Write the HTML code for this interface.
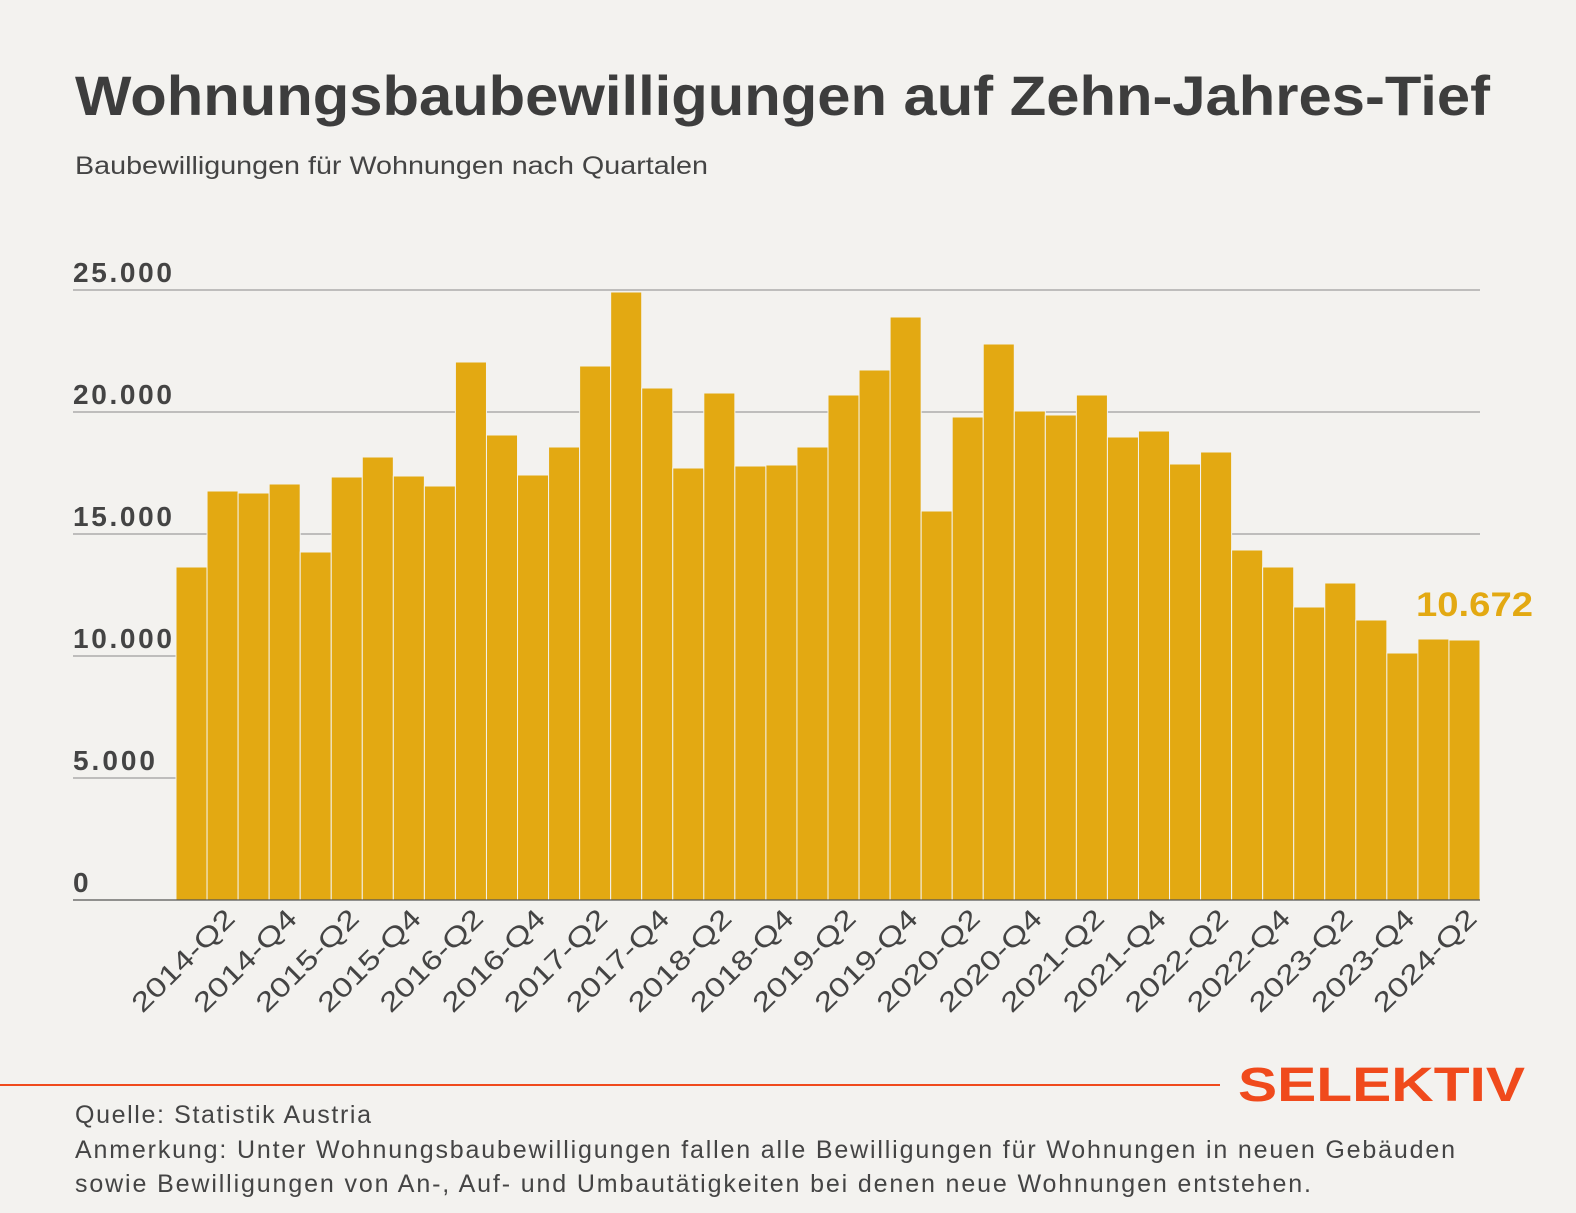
<!DOCTYPE html>
<html><head><meta charset="utf-8"><style>
html,body{margin:0;padding:0;background:#f3f2ef;}
svg{display:block;}
</style></head><body>
<svg width="1576" height="1213" viewBox="0 0 1576 1213" xmlns="http://www.w3.org/2000/svg" font-family="Liberation Sans, sans-serif">
<rect width="1576" height="1213" fill="#f3f2ef"/>
<text x="75" y="115" font-size="56" font-weight="bold" fill="#3d3d3d" textLength="1415" lengthAdjust="spacingAndGlyphs">Wohnungsbaubewilligungen auf Zehn-Jahres-Tief</text>
<text x="75" y="174" font-size="25" fill="#444" textLength="633" lengthAdjust="spacingAndGlyphs">Baubewilligungen für Wohnungen nach Quartalen</text>
<g stroke="#888" stroke-width="1">
<line x1="73" y1="290" x2="1480" y2="290"/>
<line x1="73" y1="412" x2="1480" y2="412"/>
<line x1="73" y1="534" x2="1480" y2="534"/>
<line x1="73" y1="656" x2="1480" y2="656"/>
<line x1="73" y1="778" x2="1480" y2="778"/>
</g>
<g font-size="28" font-weight="bold" fill="#444" lengthAdjust="spacingAndGlyphs">
<text x="73" y="282" textLength="99">25.000</text>
<text x="73" y="404" textLength="99">20.000</text>
<text x="73" y="526" textLength="99">15.000</text>
<text x="73" y="648" textLength="99">10.000</text>
<text x="73" y="770" textLength="82">5.000</text>
<text x="73" y="892">0</text>
</g>
<g id="bars" fill="#e3a912" stroke="#f3f2ef" stroke-width="1"></g>
<line x1="73" y1="900" x2="1480" y2="900" stroke="#555" stroke-width="1.2"/>
<g id="labels" font-size="27" fill="#444"></g>
<text x="1416" y="616" font-size="34" font-weight="bold" fill="#e3a912" textLength="117" lengthAdjust="spacingAndGlyphs">10.672</text>
<line x1="0" y1="1085" x2="1220" y2="1085" stroke="#f04a1c" stroke-width="2"/>
<text x="1238" y="1101" font-size="48" font-weight="bold" fill="#f04a1c" textLength="287" lengthAdjust="spacingAndGlyphs">SELEKTIV</text>
<g font-size="25" fill="#444" lengthAdjust="spacingAndGlyphs">
<text x="75" y="1123" textLength="296">Quelle: Statistik Austria</text>
<text x="75" y="1158" textLength="1380">Anmerkung: Unter Wohnungsbaubewilligungen fallen alle Bewilligungen für Wohnungen in neuen Gebäuden</text>
<text x="75" y="1192" textLength="1236">sowie Bewilligungen von An-, Auf- und Umbautätigkeiten bei denen neue Wohnungen entstehen.</text>
</g>
<script>
var tops=[567,491,493,484,552,477,457,476,486,362,435,475,447,366,292,388,468,393,466,465,447,395,370,317,511,417,344,411,415,395,437,431,464,452,550,567,607,583,620,653,639,640];
var w=1304/42,g=document.getElementById('bars'),l=document.getElementById('labels'),ns='http://www.w3.org/2000/svg';
for(var i=0;i<42;i++){var r=document.createElementNS(ns,'rect');var x=176+i*w;
r.setAttribute('x',x);r.setAttribute('y',tops[i]);r.setAttribute('width',w);r.setAttribute('height',900-tops[i]);g.appendChild(r);
if(i%2==1){var y=2014+Math.floor(i/4);var q=(i%4==1)?'Q2':'Q4';var t=document.createElementNS(ns,'text');
var cx=x+w/2+14,cy=920;t.setAttribute('x',cx);t.setAttribute('y',cy);t.setAttribute('text-anchor','end');
t.setAttribute('textLength','133');t.setAttribute('lengthAdjust','spacingAndGlyphs');
t.setAttribute('transform','rotate(-45 '+cx+' '+cy+')');t.textContent=y+'-'+q;l.appendChild(t);}}
</script>
</svg>
</body></html>
